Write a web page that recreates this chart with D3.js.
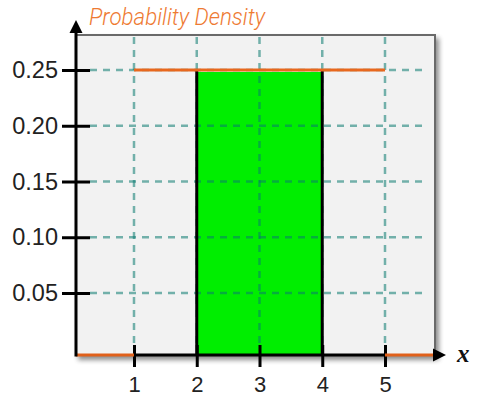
<!DOCTYPE html>
<html>
<head>
<meta charset="utf-8">
<script src="https://cdn.jsdelivr.net/npm/d3@7"></script>
<style>
html,body{margin:0;padding:0;background:#fff;}
svg{display:block;}
</style>
</head>
<body>
<svg id="chart" width="477" height="404"></svg>
<script>
// ---- data ----
const xTicks = [1, 2, 3, 4, 5];
const xTickLabels = ["1", "2", "3", "4", "5"];
const yTicks = [0.05, 0.10, 0.15, 0.20, 0.25];
const yTickLabels = ["0.05", "0.10", "0.15", "0.20", "0.25"];
const supportRange = [1, 5];      // uniform distribution support
const densityValue = [0.25];      // height of pdf
const shadedRange = [2, 4];       // probability region
const titleText = "Probability Density";
const xAxisLabel = "x";

// ---- layout ----
const svg = d3.select("#chart");
const axisX = 76, axisY = 355, boxRight = 435, boxTop = 35;

const x = d3.scaleLinear().domain([1, 5]).range([134, 385]);
const y = d3.scaleLinear().domain([0.05, 0.25]).range([293, 70]);

const defs = svg.append("defs");
const f = defs.append("filter").attr("id", "sh").attr("x", "-10%").attr("y", "-10%").attr("width", "130%").attr("height", "130%");
f.append("feGaussianBlur").attr("in", "SourceAlpha").attr("stdDeviation", 2.5);
f.append("feOffset").attr("dx", 3).attr("dy", 4).attr("result", "ob");
f.append("feComponentTransfer").append("feFuncA").attr("type", "linear").attr("slope", 0.45);
const m = f.append("feMerge");
m.append("feMergeNode");
m.append("feMergeNode").attr("in", "SourceGraphic");

// plot box
svg.append("rect")
  .attr("x", axisX).attr("y", boxTop)
  .attr("width", boxRight - axisX).attr("height", axisY - boxTop)
  .attr("fill", "#f2f2f2").attr("stroke", "#6a6a6a").attr("stroke-width", 2)
  .attr("filter", "url(#sh)");

// shaded region
svg.append("rect")
  .attr("x", x(shadedRange[0])).attr("y", y(densityValue[0]) + 2)
  .attr("width", x(shadedRange[1]) - x(shadedRange[0]))
  .attr("height", axisY - y(densityValue[0]) - 2)
  .attr("fill", "#00ee00");

// grid
const gridColor = "#0a7a70";
svg.append("g").selectAll("line").data(xTicks).join("line")
  .attr("x1", d => x(d)).attr("x2", d => x(d))
  .attr("y1", boxTop + 2).attr("y2", axisY - 10)
  .attr("stroke", gridColor).attr("stroke-opacity", 0.55)
  .attr("stroke-width", 2.5).attr("stroke-dasharray", "7,6");
svg.append("g").selectAll("line").data(yTicks).join("line")
  .attr("x1", axisX + 14).attr("x2", 428)
  .attr("y1", d => y(d)).attr("y2", d => y(d))
  .attr("stroke", gridColor).attr("stroke-opacity", 0.55)
  .attr("stroke-width", 2.5).attr("stroke-dasharray", "7,6");

// shaded region sides
svg.append("g").selectAll("line").data(shadedRange).join("line")
  .attr("x1", d => x(d)).attr("x2", d => x(d))
  .attr("y1", y(densityValue[0]) + 1).attr("y2", axisY)
  .attr("stroke", "#000").attr("stroke-width", 3);

// pdf top line
svg.append("line")
  .attr("x1", x(supportRange[0])).attr("x2", x(supportRange[1]))
  .attr("y1", y(densityValue[0])).attr("y2", y(densityValue[0]))
  .attr("stroke", "#e8681e").attr("stroke-width", 2.8);

// x axis
const xAxis = d3.axisBottom(x).tickValues(xTicks)
  .tickFormat((d, i) => xTickLabels[i]).tickSize(12).tickPadding(9);
const gx = svg.append("g").attr("transform", `translate(0,${axisY})`).call(xAxis);
gx.select(".domain").remove();
gx.selectAll(".tick line").attr("y1", -10).attr("stroke", "#000").attr("stroke-width", 3);
gx.selectAll(".tick text").attr("font-family", "Liberation Sans, Arial, sans-serif")
  .attr("font-size", 22).attr("fill", "#222");

// x axis line: black inside support, orange outside
svg.append("line").attr("x1", x(supportRange[0])).attr("x2", x(supportRange[1]))
  .attr("y1", axisY).attr("y2", axisY).attr("stroke", "#000").attr("stroke-width", 3);
svg.append("line").attr("x1", axisX).attr("x2", x(supportRange[0]))
  .attr("y1", axisY).attr("y2", axisY).attr("stroke", "#e0601a").attr("stroke-width", 3);
svg.append("line").attr("x1", x(supportRange[1])).attr("x2", boxRight)
  .attr("y1", axisY).attr("y2", axisY).attr("stroke", "#e0601a").attr("stroke-width", 3);
svg.append("path")
  .attr("d", `M${boxRight - 2},${axisY - 6.5}L${446},${axisY}L${boxRight - 2},${axisY + 6.5}Z`)
  .attr("fill", "#000");

// y axis
const yAxis = d3.axisLeft(y).tickValues(yTicks)
  .tickFormat((d, i) => yTickLabels[i]).tickSize(14).tickPadding(4);
const gy = svg.append("g").attr("transform", `translate(${axisX},0)`).call(yAxis);
gy.select(".domain").remove();
gy.selectAll(".tick line").attr("x1", 14).attr("stroke", "#000").attr("stroke-width", 3);
gy.selectAll(".tick text").attr("font-family", "Liberation Sans, Arial, sans-serif")
  .attr("font-size", 23.5).attr("fill", "#222");

svg.append("line").attr("x1", axisX).attr("x2", axisX)
  .attr("y1", axisY + 1.5).attr("y2", 30).attr("stroke", "#000").attr("stroke-width", 3);
svg.append("path")
  .attr("d", `M${axisX - 6.5},${33}L${axisX},${20}L${axisX + 6.5},${33}Z`)
  .attr("fill", "#000");

// labels
svg.append("text").attr("x", 89).attr("y", 25)
  .attr("font-family", "Liberation Sans Narrow, Roboto, sans-serif")
  .attr("font-style", "italic").attr("font-weight", 300).attr("font-size", 24)
  .attr("textLength", 176).attr("lengthAdjust", "spacingAndGlyphs")
  .attr("fill", "#ee7a32").text(titleText);

svg.append("text").attr("x", 457).attr("y", 362)
  .attr("font-family", "Liberation Serif, Times New Roman, serif")
  .attr("font-style", "italic").attr("font-weight", "bold").attr("font-size", 25)
  .attr("fill", "#111").text(xAxisLabel);
</script>
</body>
</html>
